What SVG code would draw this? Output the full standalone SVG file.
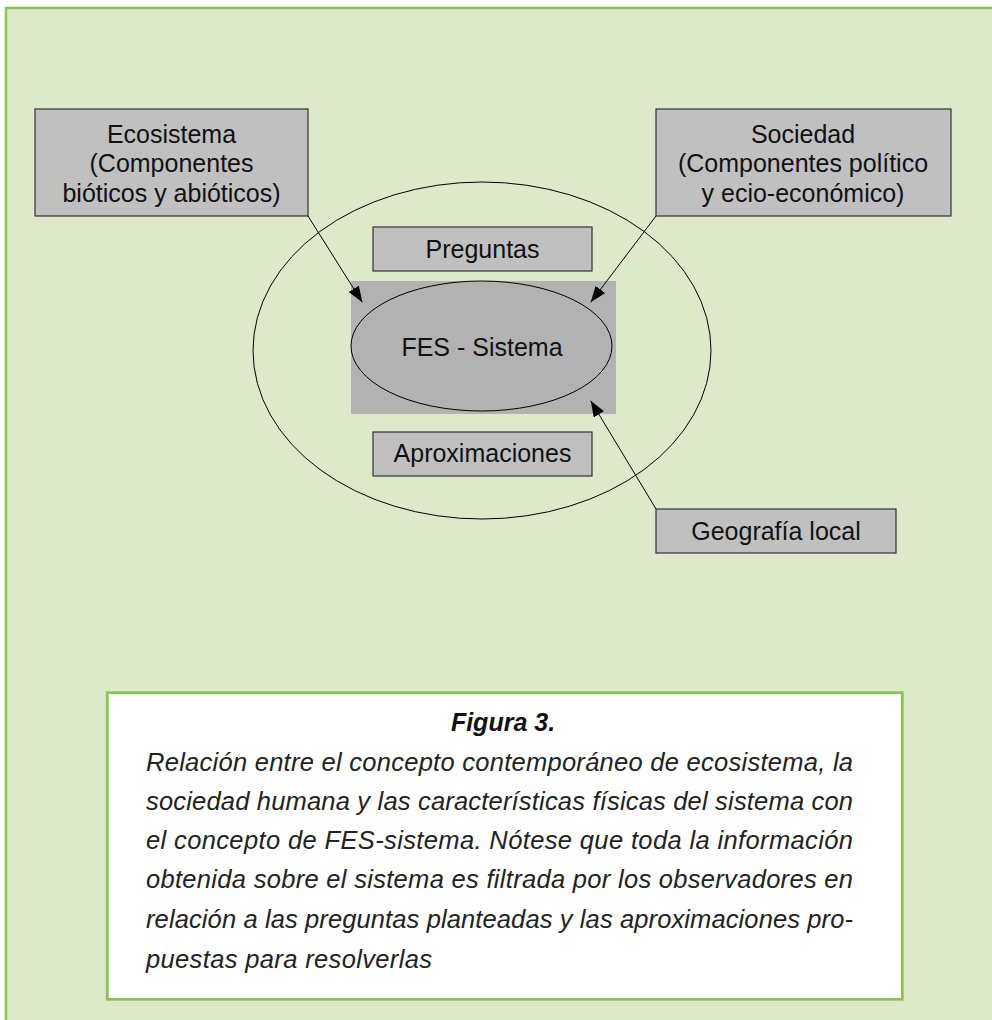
<svg xmlns="http://www.w3.org/2000/svg" width="992" height="1020" viewBox="0 0 992 1020">
  <style>
    .box { fill: #c0c0c0; stroke: #333333; stroke-width: 1.2; }
    .lbl { font-family: "Liberation Sans", Arial, sans-serif; font-size: 25px; fill: #111111; text-anchor: middle; }
    .conn { stroke: #000000; stroke-width: 1; fill: none; marker-end: url(#arrow); }
    .cap { font-family: "Liberation Sans", Arial, sans-serif; font-size: 25.5px; font-style: italic; fill: #222222; }
  </style>
  <defs>
    <marker id="arrow" viewBox="0 0 16 12" refX="16" refY="6" markerWidth="16" markerHeight="12" markerUnits="userSpaceOnUse" orient="auto">
      <path d="M0,0 L16,6 L0,12 z" fill="#000000"/>
    </marker>
  </defs>

  <rect x="0" y="0" width="992" height="1020" fill="#ffffff"/>
  <rect id="frame" x="6" y="8" width="1010" height="1030" fill="#dde9ca" stroke="#88c654" stroke-width="2.5"/>

  <ellipse id="outer-ellipse" cx="482" cy="350.5" rx="229" ry="168.5" fill="none" stroke="#000000" stroke-width="1"/>

  <g id="fes-sistema">
    <rect x="351" y="281" width="265" height="133" fill="#b2b2b2"/>
    <ellipse cx="481.5" cy="346" rx="130.5" ry="65" fill="#b2b2b2" stroke="#000000" stroke-width="1"/>
    <text class="lbl" x="482" y="356">FES - Sistema</text>
  </g>

  <g id="ecosistema">
    <rect class="box" x="35" y="109" width="273" height="107"/>
    <text class="lbl" x="171.5" y="143">Ecosistema</text>
    <text class="lbl" x="171.5" y="172">(Componentes</text>
    <text class="lbl" x="171.5" y="202">bióticos y abióticos)</text>
  </g>

  <g id="sociedad">
    <rect class="box" x="656" y="109" width="295" height="107"/>
    <text class="lbl" x="803" y="143">Sociedad</text>
    <text class="lbl" x="803" y="172">(Componentes político</text>
    <text class="lbl" x="803" y="202">y ecio-económico)</text>
  </g>

  <g id="preguntas">
    <rect class="box" x="373" y="227" width="219" height="44"/>
    <text class="lbl" x="482.5" y="258">Preguntas</text>
  </g>

  <g id="aproximaciones">
    <rect class="box" x="373" y="432" width="219" height="44"/>
    <text class="lbl" x="482.5" y="462">Aproximaciones</text>
  </g>

  <g id="geografia">
    <rect class="box" x="656" y="509" width="240" height="44"/>
    <text class="lbl" x="776" y="540">Geografía local</text>
  </g>

  <g id="connectors">
    <line class="conn" x1="308" y1="216" x2="362.3" y2="302.3"/>
    <line class="conn" x1="656" y1="216" x2="590.7" y2="302.3"/>
    <line class="conn" x1="656" y1="509" x2="590.7" y2="400.7"/>
  </g>

  <g id="caption">
    <rect x="107.3" y="692.7" width="795" height="306.6" fill="#ffffff" stroke="#88c654" stroke-width="2.8"/>
    <text x="503" y="731" font-family="'Liberation Sans', Arial, sans-serif" font-size="25" font-weight="bold" font-style="italic" fill="#111111" text-anchor="middle">Figura 3.</text>
    <text class="cap" x="146" y="770.7" textLength="707" lengthAdjust="spacing">Relación entre el concepto contemporáneo de ecosistema, la</text>
    <text class="cap" x="146" y="809.5" textLength="707" lengthAdjust="spacing">sociedad humana y las características físicas del sistema con</text>
    <text class="cap" x="146" y="848.5" textLength="707" lengthAdjust="spacing">el concepto de FES-sistema. Nótese que toda la información</text>
    <text class="cap" x="146" y="887.5" textLength="707" lengthAdjust="spacing">obtenida sobre el sistema es filtrada por los observadores en</text>
    <text class="cap" x="146" y="928.3" textLength="707" lengthAdjust="spacing">relación a las preguntas planteadas y las aproximaciones pro-</text>
    <text class="cap" x="146" y="967.7" textLength="286" lengthAdjust="spacing">puestas para resolverlas</text>
  </g>
</svg>
